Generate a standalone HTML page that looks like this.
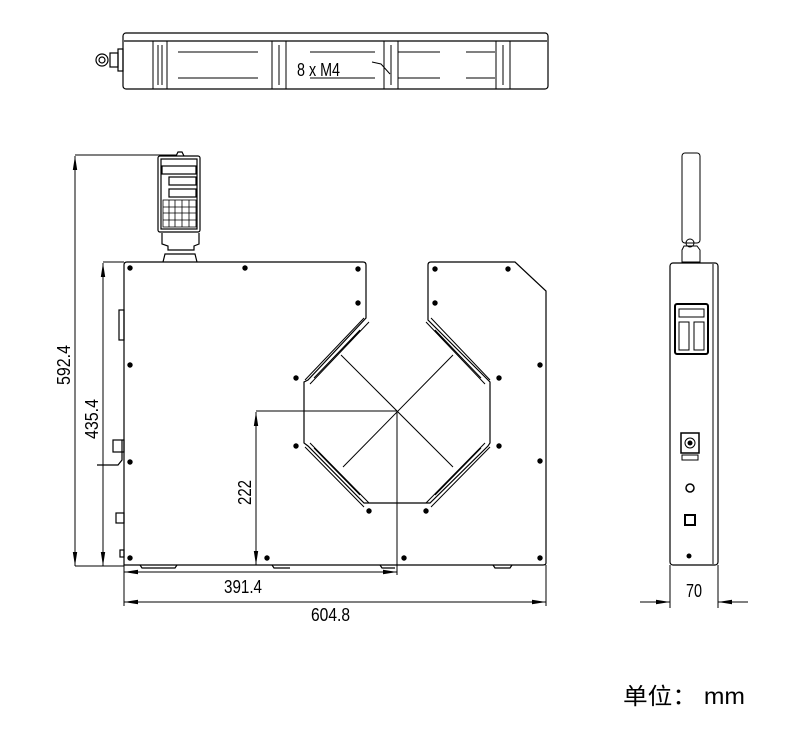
<!DOCTYPE html>
<html><head><meta charset="utf-8"><style>
html,body{margin:0;padding:0;background:#fff}
svg{display:block}
text{font-family:"Liberation Sans",sans-serif;fill:#000}
</style></head><body>
<svg width="806" height="751" viewBox="0 0 806 751" xmlns="http://www.w3.org/2000/svg">
<defs>
<marker id="a" markerWidth="14" markerHeight="6" refX="14" refY="3" orient="auto-start-reverse" markerUnits="userSpaceOnUse"><path d="M0,0.8 L14,3 L0,5.2z" fill="#000"/></marker>
</defs>
<g fill="none" stroke="#000" stroke-width="1.2">
<rect x="123" y="33" width="425" height="56" rx="3"/>
<line x1="124" y1="41" x2="547" y2="41"/>
<circle cx="102" cy="60" r="6"/><circle cx="102" cy="60" r="3"/>
<rect x="110" y="53" width="8" height="14"/><rect x="118" y="49" width="5" height="22"/>
<g stroke-width="1">
<rect x="153" y="41" width="14" height="48"/><line x1="158" y1="45" x2="158" y2="85"/><line x1="162" y1="45" x2="162" y2="85"/>
<line x1="178" y1="52" x2="258" y2="52"/><line x1="178" y1="78" x2="258" y2="78"/>
<rect x="272" y="41" width="14" height="48"/><line x1="279" y1="45" x2="279" y2="85"/>
<line x1="310" y1="52" x2="375" y2="52"/><line x1="310" y1="78" x2="375" y2="78"/>
<rect x="384" y="41" width="14" height="48"/><line x1="391" y1="45" x2="391" y2="85"/>
<line x1="398" y1="52" x2="440" y2="52"/><line x1="398" y1="78" x2="440" y2="78"/>
<line x1="466" y1="52" x2="495" y2="52"/><line x1="466" y1="78" x2="495" y2="78"/>
<rect x="496" y="41" width="14" height="48"/><line x1="503" y1="45" x2="503" y2="85"/>
<path d="M372,62 L381,64 L390,74"/>
</g>
<rect x="158" y="156" width="42" height="76" rx="2"/>
<rect x="161" y="159" width="36" height="70"/>
<rect x="162" y="166" width="34" height="8"/>
<rect x="169" y="177" width="27" height="8"/>
<rect x="169" y="189" width="27" height="8"/>
<g stroke-width="0.8">
<rect x="163" y="200" width="33" height="27"/>
<line x1="163" y1="207" x2="196" y2="207"/><line x1="163" y1="213" x2="196" y2="213"/><line x1="163" y1="220" x2="196" y2="220"/>
<line x1="169" y1="200" x2="169" y2="227"/><line x1="175" y1="200" x2="175" y2="227"/><line x1="182" y1="200" x2="182" y2="227"/><line x1="189" y1="200" x2="189" y2="227"/>
</g>
<path d="M162,233 L162,244 L168,246 L168,250 L194,250 L194,246 L199,244 L199,233"/>
<path d="M163,262 L165,254 L195,254 L197,262"/>
<path d="M176,156 L178,152 L182,152 L184,156"/>
<path d="M124,565 L124,265 Q124,262 127,262 L363,262 Q366,262 366,265 L366,318 L308,380 L304,382 L304,443 L308,446 L364,503 L430,503 L488,446 L490,443 L490,382 L488,380 L428,320 L428,265 Q428,262 431,262 L515,262 L546,291 L546,563 Q546,565 543,565 Z"/>
<g stroke-width="1">
<path d="M369,322 L310,384 M364,318 L305,380 M360,330 L314,378"/>
<path d="M426,322 L485,384 M431,318 L490,380 M435,330 L481,378"/>
<path d="M310,443 L369,503 M305,447 L364,507 M314,448 L360,495"/>
<path d="M485,443 L426,503 M490,447 L431,507 M481,448 L435,495"/>
<line x1="341" y1="355" x2="453" y2="467"/><line x1="453" y1="355" x2="343" y2="467"/>
</g>
<path d="M140,565 L142,568 L175,568 L177,565 M272,565 L274,568 L290,568 M380,565 L382,568 L395,568 M493,565 L495,568 L510,568 L512,565"/>
<rect x="119" y="310" width="5" height="30"/><rect x="113" y="440" width="11" height="12"/>
<path d="M97,465 L118,465 L122,460 L122,440"/><rect x="116" y="513" width="8" height="10"/><rect x="120" y="550" width="4" height="7"/>
</g>
<g fill="#000">
<circle cx="130" cy="268" r="2.7"/><circle cx="245" cy="268" r="2.7"/><circle cx="358" cy="269" r="2.7"/><circle cx="358" cy="303" r="2.7"/>
<circle cx="130" cy="365" r="2.7"/><circle cx="130" cy="462" r="2.7"/><circle cx="130" cy="558" r="2.7"/>
<circle cx="296" cy="378" r="2.7"/><circle cx="296" cy="446" r="2.7"/><circle cx="369" cy="511" r="2.7"/><circle cx="426" cy="511" r="2.7"/>
<circle cx="499" cy="378" r="2.7"/><circle cx="499" cy="446" r="2.7"/>
<circle cx="435" cy="269" r="2.7"/><circle cx="508" cy="269" r="2.7"/><circle cx="435" cy="303" r="2.7"/>
<circle cx="540" cy="365" r="2.7"/><circle cx="540" cy="461" r="2.7"/><circle cx="540" cy="558" r="2.7"/>
<circle cx="267" cy="558" r="2.7"/><circle cx="404" cy="558" r="2.7"/>
</g>
<g fill="none" stroke="#000" stroke-width="1">
<line x1="75" y1="155" x2="176" y2="155"/><line x1="75" y1="566" x2="124" y2="566"/>
<line x1="75" y1="156" x2="75" y2="566" marker-start="url(#a)" marker-end="url(#a)"/>
<line x1="103" y1="262" x2="124" y2="262"/>
<line x1="103" y1="263" x2="103" y2="566" marker-start="url(#a)" marker-end="url(#a)"/>
<line x1="256" y1="411" x2="397" y2="411"/><line x1="397" y1="411" x2="397" y2="575"/>
<line x1="256" y1="412" x2="256" y2="565" marker-start="url(#a)" marker-end="url(#a)"/>
<line x1="124" y1="565" x2="124" y2="606"/><line x1="546" y1="565" x2="546" y2="606"/>
<line x1="124" y1="572" x2="397" y2="572" marker-start="url(#a)" marker-end="url(#a)"/>
<line x1="124" y1="602" x2="546" y2="602" marker-start="url(#a)" marker-end="url(#a)"/>
<rect x="670" y="263" width="48" height="302" rx="3" stroke-width="1.2"/>
<line x1="713" y1="264" x2="713" y2="564"/>
<rect x="682" y="153" width="18" height="90" rx="3"/>
<circle cx="690" cy="243" r="4"/>
<path d="M682,250 L684,246 L697,246 L700,250 L700,262 L682,262 Z"/>
<rect x="675" y="304" width="33" height="50" rx="2" stroke-width="2"/>
<rect x="679" y="309" width="25" height="8"/>
<rect x="679" y="322" width="10" height="28"/><rect x="694" y="322" width="10" height="28"/>
<rect x="681" y="433" width="18" height="20" stroke-width="1.5"/><circle cx="690" cy="443" r="5"/>
<rect x="682" y="455" width="16" height="5"/>
<circle cx="690" cy="488" r="4" stroke-width="1.5"/>
<rect x="685" y="515" width="10" height="10" stroke-width="2"/>
<line x1="670" y1="565" x2="670" y2="608"/><line x1="718" y1="565" x2="718" y2="608"/>
<line x1="640" y1="602" x2="670" y2="602" marker-end="url(#a)"/>
<line x1="748" y1="602" x2="718" y2="602" marker-end="url(#a)"/>
</g>
<circle cx="689" cy="556" r="2.5" fill="#000"/>
<circle cx="690" cy="443" r="2.5" fill="#000"/>
<text x="297" y="76" font-size="18" textLength="43" lengthAdjust="spacingAndGlyphs">8 x M4</text>
<text x="224" y="593" font-size="18" textLength="38" lengthAdjust="spacingAndGlyphs">391.4</text>
<text x="311" y="621" font-size="18" textLength="39" lengthAdjust="spacingAndGlyphs">604.8</text>
<text x="686" y="597" font-size="18" textLength="16" lengthAdjust="spacingAndGlyphs">70</text>
<text transform="translate(70,385) rotate(-90)" font-size="18" textLength="40" lengthAdjust="spacingAndGlyphs">592.4</text>
<text transform="translate(98,439) rotate(-90)" font-size="18" textLength="40" lengthAdjust="spacingAndGlyphs">435.4</text>
<text transform="translate(251,505) rotate(-90)" font-size="18" textLength="25" lengthAdjust="spacingAndGlyphs">222</text>
<text x="623" y="704" font-size="23" textLength="122" lengthAdjust="spacingAndGlyphs" style="font-family:'Liberation Sans','Noto Sans CJK SC',sans-serif">单位： mm</text>
</svg>
</body></html>
